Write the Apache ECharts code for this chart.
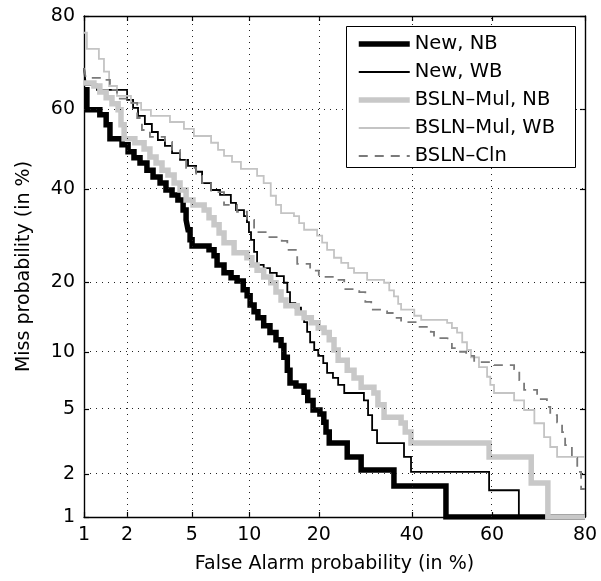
<!DOCTYPE html>
<html><head><meta charset="utf-8">
<script src="https://cdn.jsdelivr.net/npm/echarts@6/dist/echarts.min.js"></script>
<style>html,body{margin:0;padding:0;background:#fff}#c{width:601px;height:581px}</style>
</head><body><div id="c"></div>
<script>
// ---- data (percent) ----
const tickValues = [1, 2, 5, 10, 20, 40, 60, 80];
const gridValues = [2, 5, 10, 20, 40, 60];
const seriesNames = ['New, NB', 'New, WB', 'BSLN\u2013Mul, NB', 'BSLN\u2013Mul, WB', 'BSLN\u2013Cln'];

const newNB_fa   = [1.0,1.05,1.30,1.44,1.53,1.85,2.03,2.22,2.43,2.69,2.94,3.25,3.53,3.84,4.16,4.46,4.64,4.76,4.89,5.02,6.23,6.63,6.88,7.48,8.13,8.72,9.35,9.77,10.1,10.55,11.0,11.7,12.5,13.3,14.0,14.4,14.9,15.3,16.2,17.5,18.1,19.0,20.2,20.9,21.3,21.9,25.4,28.3,35.7,48.5,80];
const newNB_miss = [64.6,59.8,58.6,56.1,52.6,51.1,49.3,47.8,46.5,44.7,43.0,41.5,39.8,38.6,37.4,35.0,32.7,30.5,28.3,27.0,26.2,25.0,23.2,21.7,20.8,20.2,18.7,17.7,16.2,15.2,14.3,13.2,12.3,11.4,10.7,9.4,8.1,6.95,6.7,6.2,5.6,4.95,4.7,4.2,3.68,3.15,2.58,2.12,1.66,1.0,1.0];

const newWB_fa   = [1.0,1.03,1.24,2.0,2.19,2.36,2.61,2.89,3.15,3.48,3.84,4.28,4.76,5.29,5.71,6.39,7.13,8.11,8.61,9.43,9.75,9.97,10.2,10.55,10.9,11.7,12.5,13.4,14.4,14.9,15.3,16.1,17.0,17.5,18.0,18.5,19.2,19.9,20.8,21.5,22.6,23.6,24.8,28.9,29.8,30.7,31.8,38.1,39.8,59.3,66.4,80];
const newWB_miss = [69.6,65.8,64.6,62.2,60.3,58.3,56.3,54.3,52.3,50.8,49.0,47.3,45.8,44.3,41.5,39.8,38.6,36.7,35.0,33.6,32.2,30.0,28.3,25.8,23.2,22.6,21.7,21.1,19.9,18.3,16.5,15.8,15.0,13.7,12.4,11.1,10.2,9.55,8.8,7.85,7.4,6.8,6.15,5.6,4.63,3.78,3.15,2.58,2.06,1.55,1.0,1.0];

const mulNB_fa   = [1.0,1.18,1.30,1.44,1.58,1.74,1.82,1.91,2.25,2.58,2.81,3.07,3.34,3.63,3.95,4.28,4.64,5.08,5.86,6.23,6.63,7.05,7.48,8.42,9.75,10.3,10.9,11.7,12.6,13.3,14.0,14.7,16.4,17.5,18.7,19.9,20.95,21.9,22.8,23.6,25.4,26.8,28.3,31.1,32.0,33.4,37.4,38.4,39.8,59.3,69.2,72.8,80];
const mulNB_miss = [66.2,65.5,64.1,62.7,61.3,59.8,56.1,52.6,51.6,50.0,48.0,46.5,44.7,43.5,41.5,39.8,37.4,36.2,35.0,33.2,31.6,29.8,27.7,25.6,24.6,23.2,22.2,20.95,19.9,18.3,17.0,16.1,15.0,14.3,13.6,12.9,12.3,11.4,10.2,9.1,8.1,7.4,6.6,6.15,5.3,4.5,4.16,3.68,3.15,2.58,1.74,1.0,1.0];

const mulWB_fa   = [1.0,1.05,1.28,1.39,1.51,1.71,2.12,2.47,2.85,3.73,4.51,5.14,6.39,6.96,7.48,8.22,9.11,10.9,11.7,12.6,13.3,14.0,15.9,16.7,17.5,19.7,20.6,21.5,22.8,24.2,25.6,26.8,29.6,33.4,34.6,35.7,36.7,37.4,40.6,42.3,48.8,50.0,51.3,52.6,53.8,54.8,56.8,58.8,59.6,60.5,65.3,67.6,69.9,72.0,73.3,74.7,80];
const mulWB_miss = [76.9,73.7,71.6,68.8,65.5,63.2,61.5,59.8,58.3,56.8,55.1,53.3,51.6,49.8,48.3,46.8,45.0,43.3,41.5,38.4,36.2,34.3,33.6,32.0,30.5,29.2,27.7,26.2,24.6,23.6,22.6,21.7,20.4,19.9,18.6,17.6,16.4,15.5,14.6,14.0,13.6,12.9,12.3,11.1,10.2,9.4,8.4,7.5,6.8,6.15,5.6,4.95,4.15,3.43,2.98,2.58,2.58];

const cln_fa   = [1.0,1.03,1.39,1.53,1.71,2.09,2.33,2.50,2.81,3.48,3.84,4.28,4.64,5.29,5.71,6.39,7.48,8.71,9.75,10.55,12.1,14.1,14.9,16.4,18.5,20.0,22.8,24.8,27.9,29.2,30.5,34.1,35.7,37.4,41.3,44.7,45.5,48.8,50.0,51.3,53.6,55.6,60.5,65.3,66.5,67.6,70.5,72.6,73.3,74.7,75.7,76.3,77.6,78.6,79.3,80];
const cln_miss = [69.6,67.4,66.9,64.6,62.5,61.5,57.8,54.8,53.1,51.8,49.8,47.3,45.3,43.3,41.5,39.3,36.2,34.6,32.7,30.0,28.9,28.1,26.2,23.4,22.1,20.95,20.4,18.8,18.3,16.7,15.5,15.0,14.3,13.7,13.05,12.4,11.6,11.4,10.4,10.0,9.55,8.9,8.6,8.2,7.2,6.4,5.7,5.15,4.63,4.2,3.68,3.06,2.54,2.06,1.58,1.58];

// ---- normal-deviate (DET) scale ----
function probit(p){
  const a=[-3.969683028665376e+01,2.209460984245205e+02,-2.759285104469687e+02,1.383577518672690e+02,-3.066479806614716e+01,2.506628277459239e+00];
  const b=[-5.447609879822406e+01,1.615858368580409e+02,-1.556989798598866e+02,6.680131188771972e+01,-1.328068155288572e+01];
  const c=[-7.784894002430293e-03,-3.223964580411365e-01,-2.400758277161838e+00,-2.549732539343734e+00,4.374664141464968e+00,2.938163982698783e+00];
  const d=[7.784695709041462e-03,3.224671290700398e-01,2.445134137142996e+00,3.754408661907416e+00];
  const pl=0.02425, ph=1-pl; let q, r;
  if (p < pl) { q=Math.sqrt(-2*Math.log(p)); return (((((c[0]*q+c[1])*q+c[2])*q+c[3])*q+c[4])*q+c[5])/((((d[0]*q+d[1])*q+d[2])*q+d[3])*q+1); }
  if (p <= ph) { q=p-0.5; r=q*q; return (((((a[0]*r+a[1])*r+a[2])*r+a[3])*r+a[4])*r+a[5])*q/(((((b[0]*r+b[1])*r+b[2])*r+b[3])*r+b[4])*r+1); }
  q=Math.sqrt(-2*Math.log(1-p)); return -(((((c[0]*q+c[1])*q+c[2])*q+c[3])*q+c[4])*q+c[5])/((((d[0]*q+d[1])*q+d[2])*q+d[3])*q+1);
}
const P = v => probit(v / 100);
const pts = (fa, miss) => fa.map((x, i) => [P(x), P(miss[i])]);
const tickPos = tickValues.map(P);
const fmt = v => { const t = tickValues.find(t => Math.abs(P(t) - v) < 1e-6); return t === undefined ? '' : String(t); };

const FONT = 'DejaVu Sans';
const FS = 19;
const AMIN = P(tickValues[0]), AMAX = P(tickValues[tickValues.length - 1]);

const mkAxis = (pos, showLabel, extra) => Object.assign({
  type: 'value', min: AMIN, max: AMAX, position: pos,
  axisLine: { show: true, onZero: false, lineStyle: { color: '#000', width: 1.4 } },
  axisTick: { show: true, inside: true, length: 5, customValues: tickPos, lineStyle: { color: '#000', width: 1.2 } },
  axisLabel: { show: showLabel, customValues: tickPos, formatter: fmt, fontFamily: FONT, fontSize: FS, color: '#000', margin: 9 },
  splitLine: { show: false }
}, extra || {});

const styles = [
  { color: '#000000', width: 5.5, type: 'solid' },
  { color: '#000000', width: 1.8, type: 'solid' },
  { color: '#c8c8c8', width: 5.5, type: 'solid' },
  { color: '#c4c4c4', width: 1.8, type: 'solid' },
  { color: '#7a7a7a', width: 1.8, type: [9, 7] }
];
const datasets = [pts(newNB_fa, newNB_miss), pts(newWB_fa, newWB_miss), pts(mulNB_fa, mulNB_miss), pts(mulWB_fa, mulWB_miss), pts(cln_fa, cln_miss)];

const series = [{
  type: 'line', data: [], xAxisIndex: 0, yAxisIndex: 0, silent: true, z: 1,
  markLine: {
    silent: true, symbol: ['none', 'none'], label: { show: false }, animation: false,
    lineStyle: { color: '#222', type: [1, 5], width: 1 },
    data: gridValues.map(v => ({ xAxis: P(v) })).concat(gridValues.map(v => ({ yAxis: P(v) })))
  }
}].concat(seriesNames.map((n, i) => ({
  name: n, type: 'line', step: 'end', symbol: 'none', showSymbol: false,
  data: datasets[i], z: 2 + i, animation: false, silent: true,
  lineStyle: { color: styles[i].color, width: styles[i].width, type: styles[i].type, join: 'miter', cap: 'butt' },
  itemStyle: { color: styles[i].color }
})));

const chart = echarts.init(document.getElementById('c'), null, { renderer: 'canvas' });
chart.setOption({
  animation: false,
  backgroundColor: '#fff',
  grid: { left: 84, top: 16, width: 501, height: 501, containLabel: false },
  xAxis: [
    mkAxis('bottom', true, { name: 'False Alarm probability (in %)', nameLocation: 'middle', nameGap: 38,
      nameTextStyle: { fontFamily: FONT, fontSize: FS, color: '#000' } }),
    mkAxis('top', false)
  ],
  yAxis: [
    mkAxis('left', true, { name: 'Miss probability (in %)', nameLocation: 'middle', nameGap: 50,
      nameTextStyle: { fontFamily: FONT, fontSize: FS, color: '#000' } }),
    mkAxis('right', false)
  ],
  graphic: [{
    type: 'rect', left: 346, top: 26, z: 90, silent: true,
    shape: { width: 229, height: 141 },
    style: { fill: '#fff', stroke: '#000', lineWidth: 1 }
  }],
  legend: {
    orient: 'vertical', left: 356, top: 34, itemWidth: 51, itemHeight: 14, itemGap: 8,
    padding: 0, z: 100, selectedMode: false,
    itemStyle: { opacity: 0 },
    data: seriesNames.map((n, i) => ({
      name: n,
      itemStyle: { opacity: 0 },
      lineStyle: { color: styles[i].color, width: styles[i].width, type: styles[i].type, cap: 'butt' }
    })),
    textStyle: { fontFamily: FONT, fontSize: 19.5, color: '#000' }
  },
  series: series
});
</script></body></html>
